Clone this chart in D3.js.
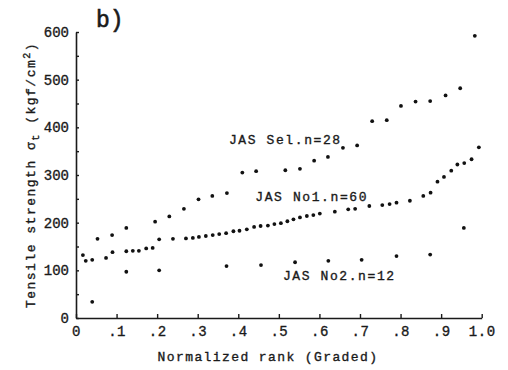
<!DOCTYPE html>
<html>
<head>
<meta charset="utf-8">
<script src="https://cdn.jsdelivr.net/npm/d3@7"></script>
<style>
    body { margin: 0; background: #fff; }
    svg { display: block; }
    text { font-family: "Liberation Mono", "DejaVu Sans Mono", monospace; fill: #1a1a1a; stroke: #1a1a1a; stroke-width: 0.35px; }
</style>
</head>
<body>
<svg id="chart"></svg>
<script>
// Normalized rank / tensile strength (kgf/cm2)
const selRank = [0.053, 0.089, 0.124, 0.195, 0.230, 0.266, 0.302, 0.336, 0.372, 0.410, 0.444,
    0.516, 0.552, 0.587, 0.621, 0.658, 0.693, 0.730, 0.766, 0.801, 0.837, 0.873, 0.911, 0.947, 0.983];
const selValue = [166, 174, 189, 202, 213, 229, 249, 256, 262, 305, 308,
    310, 313, 330, 338, 357, 362, 413, 415, 445, 454, 455, 467, 482, 592];

const no1Rank = [0.017, 0.024, 0.040, 0.074, 0.090, 0.124, 0.140, 0.155, 0.173, 0.189,
    0.205, 0.239, 0.271, 0.288, 0.303, 0.320, 0.337, 0.353, 0.370, 0.388,
    0.403, 0.421, 0.439, 0.455, 0.473, 0.489, 0.505, 0.521, 0.536, 0.552,
    0.569, 0.585, 0.601, 0.638, 0.671, 0.688, 0.723, 0.755, 0.773, 0.790,
    0.823, 0.856, 0.874, 0.891, 0.907, 0.925, 0.940, 0.957, 0.975, 0.993];
const no1Value = [132, 120, 122, 126, 138, 140, 141, 141, 146, 147,
    165, 166, 167, 168, 170, 172, 174, 176, 178, 182,
    183, 186, 191, 193, 194, 197, 199, 203, 207, 211,
    214, 216, 219, 223, 228, 229, 235, 237, 239, 242,
    246, 256, 263, 286, 296, 309, 322, 325, 333, 358];

const no2Rank = [0.040, 0.124, 0.205, 0.371, 0.456, 0.540, 0.622, 0.704, 0.790, 0.873, 0.956];
const no2Value = [34, 97, 100, 109, 111, 117, 120, 122, 130, 133, 189];

const seriesNames = ['JAS Sel.n=28', 'JAS No1.n=60', 'JAS No2.n=12'];
// where each series name sits, in data units (rank, strength)
const labelRank = [0.377, 0.442, 0.510];
const labelValue = [365, 246, 79];

const xTicks = [0, 0.1, 0.2, 0.3, 0.4, 0.5, 0.6, 0.7, 0.8, 0.9, 1.0];
const xTickLabels = ['0', '.1', '.2', '.3', '.4', '.5', '.6', '.7', '.8', '.9', '1.0'];
const yTicks = [0, 50, 100, 150, 200, 250, 300, 350, 400, 450, 500, 550, 600];

const width = 508;
const height = 370;

const svg = d3.select('#chart')
    .attr('width', width)
    .attr('height', height);

svg.append('rect')
    .attr('width', width)
    .attr('height', height)
    .attr('fill', '#fff');

const x = d3.scaleLinear().domain([0, 1]).range([76, 481.7]);
const y = d3.scaleLinear().domain([0, 600]).range([318, 32]);

// axes, ticks pointing inward like the original
const xAxis = svg.append('g')
    .attr('transform', `translate(0,${y(0)})`)
    .call(d3.axisBottom(x)
        .tickValues(xTicks)
        .tickFormat((d, i) => xTickLabels[i])
        .tickSizeInner(-4)
        .tickSizeOuter(0)
        .tickPadding(8));

const yAxis = svg.append('g')
    .attr('transform', `translate(${x(0)},0)`)
    .call(d3.axisLeft(y)
        .tickValues(yTicks)
        .tickFormat(d => d % 100 === 0 ? d : '')
        .tickSizeInner(-3)
        .tickSizeOuter(0)
        .tickPadding(7));

[xAxis, yAxis].forEach(a => {
    a.select('.domain').attr('stroke', '#1a1a1a').attr('stroke-width', 1.6);
    a.selectAll('.tick line').attr('stroke', '#1a1a1a').attr('stroke-width', 1.4);
    a.selectAll('.tick text')
        .attr('font-family', '"Liberation Mono", monospace')
        .attr('font-size', 14)
        .attr('fill', '#1a1a1a');
});
xAxis.selectAll('.tick text').attr('letter-spacing', 0.5);

// points
const allPoints = [
    ...selRank.map((r, i) => ({ r, v: selValue[i] })),
    ...no1Rank.map((r, i) => ({ r, v: no1Value[i] })),
    ...no2Rank.map((r, i) => ({ r, v: no2Value[i] }))
];

svg.append('g').selectAll('circle')
    .data(allPoints)
    .join('circle')
    .attr('cx', d => x(d.r))
    .attr('cy', d => y(d.v))
    .attr('r', 1.9)
    .attr('fill', '#111');

// series names
svg.append('g').selectAll('text')
    .data(seriesNames)
    .join('text')
    .attr('x', (d, i) => x(labelRank[i]))
    .attr('y', (d, i) => y(labelValue[i]))
    .attr('font-size', 13)
    .attr('letter-spacing', 1.6)
    .text(d => d);

// axis titles
svg.append('text')
    .attr('x', 268)
    .attr('y', 361)
    .attr('text-anchor', 'middle')
    .attr('font-size', 13)
    .attr('letter-spacing', 1.4)
    .text('Normalized rank (Graded)');

const yTitle = svg.append('text')
    .attr('transform', 'translate(35,175) rotate(-90)')
    .attr('text-anchor', 'middle')
    .attr('font-size', 13)
    .attr('letter-spacing', 1.5);
yTitle.append('tspan').text('Tensile strength σ');
yTitle.append('tspan').attr('dy', 4).attr('font-size', 10).text('t');
yTitle.append('tspan').attr('dy', -4).text(' (kgf/cm');
yTitle.append('tspan').attr('dy', -5).attr('font-size', 10).text('2');
yTitle.append('tspan').attr('dy', 5).text(')');

// panel letter
svg.append('text')
    .attr('x', 96)
    .attr('y', 27)
    .attr('font-family', '"DejaVu Sans", sans-serif')
    .attr('font-size', 23)
    .style('stroke-width', '0.6px')
    .text('b)');
</script>
</body>
</html>
